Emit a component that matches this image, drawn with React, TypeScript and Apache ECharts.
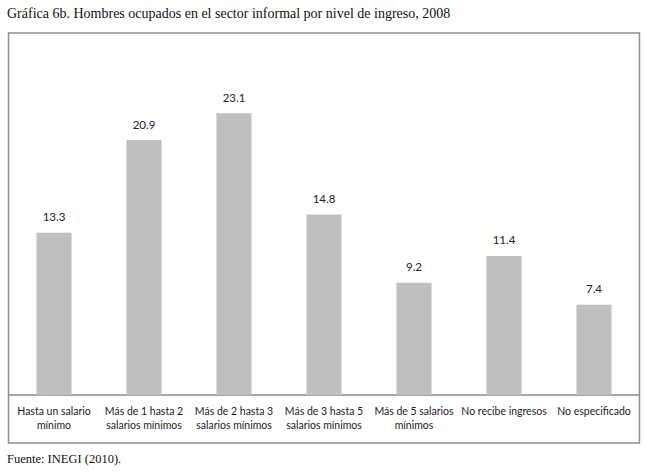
import React, { useEffect, useRef } from "react";
import * as echarts from "echarts";

const categories = [
  "Hasta un salario\nmínimo",
  "Más de 1 hasta 2\nsalarios mínimos",
  "Más de 2 hasta 3\nsalarios mínimos",
  "Más de 3 hasta 5\nsalarios mínimos",
  "Más de 5 salarios\nmínimos",
  "No recibe ingresos",
  "No especificado",
];
const values = [13.3, 20.9, 23.1, 14.8, 9.2, 11.4, 7.4];
const titleText = "Gráfica 6b. Hombres ocupados en el sector informal por nivel de ingreso, 2008";
const sourceText = "Fuente: INEGI (2010).";

export default function App() {
  const ref = useRef<HTMLDivElement>(null);
  useEffect(() => {
    if (!ref.current) return;
    const chart = echarts.init(ref.current, null, { renderer: "svg" });
    chart.setOption({
      animation: false,
      backgroundColor: "#ffffff",
      grid: { left: 9, right: 6, top: 29, bottom: 77, containLabel: false },
      xAxis: {
        type: "category",
        data: categories,
        axisLine: { lineStyle: { color: "#8a8a8a", width: 1.5 } },
        axisTick: { show: false },
        axisLabel: {
          interval: 0,
          color: "#222",
          fontFamily: "Lato, 'Noto Sans', sans-serif",
          fontSize: 10.5,
          lineHeight: 14,
          margin: 9,
        },
      },
      yAxis: {
        type: "value",
        min: 0,
        max: 30,
        show: false,
        splitLine: { show: false },
      },
      series: [
        {
          type: "bar",
          data: values,
          barWidth: "39%",
          itemStyle: { color: "#bfbfbf" },
          label: {
            show: true,
            position: "top",
            distance: 10,
            color: "#222",
            fontFamily: "Lato, 'Noto Sans', sans-serif",
            fontSize: 11.5,
            formatter: (p: any) => p.value.toFixed(1),
          },
        },
      ],
      graphic: [
        {
          type: "rect",
          shape: { x: 8.5, y: 33, width: 631, height: 410 },
          style: { fill: "none", stroke: "#8f8f8f", lineWidth: 1.5 },
          silent: true,
          z: 10,
        },
        {
          type: "text",
          left: 7,
          top: 6,
          style: {
            text: titleText,
            fill: "#111",
            font: "14px 'Liberation Serif', 'DejaVu Serif', serif",
          },
        },
        {
          type: "text",
          left: 7,
          top: 452,
          style: {
            text: sourceText,
            fill: "#111",
            font: "12.5px 'Liberation Serif', 'DejaVu Serif', serif",
          },
        },
      ],
    });
    return () => chart.dispose();
  }, []);
  return (
    <div
      ref={ref}
      style={{ position: "fixed", left: 0, top: 0, width: 645, height: 472 }}
    />
  );
}
